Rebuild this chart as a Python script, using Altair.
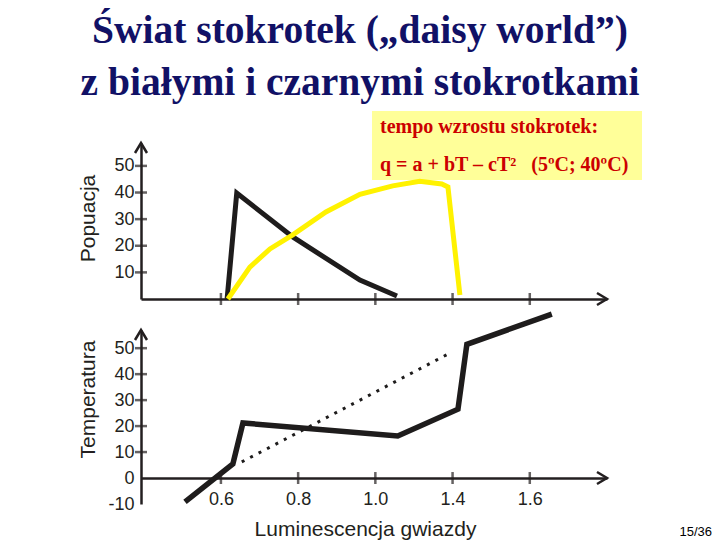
import altair as alt
import pandas as pd

# ---------------- data ----------------
TITLE_1 = "Świat stokrotek („daisy world”)"
TITLE_2 = "z białymi i czarnymi stokrotkami"
BOX_LINE_1 = "tempo wzrostu stokrotek:"
BOX_LINE_2 = "q = a + bT – cT²\u00a0\u00a0\u00a0(5ºC; 40ºC)"
PAGE_NO = "15/36"

# top panel: populations vs luminosity
BLACK_POP_L = [0.616, 0.641, 0.786, 0.960, 1.056]
BLACK_POP = [0, 39.8, 23.3, 7.1, 1.1]
YELLOW_POP_L = [0.618, 0.675, 0.727, 0.786, 0.872, 0.960, 1.045, 1.115, 1.172, 1.188, 1.219]
YELLOW_POP = [0, 12.0, 18.8, 24.1, 32.7, 39.3, 42.5, 44.2, 43.2, 42.1, 1.5]

# bottom panel: temperature vs luminosity
TEMP_L = [0.507, 0.631, 0.657, 1.058, 1.214, 1.237, 1.457]
TEMP = [-9.2, 5.4, 21.2, 16.2, 26.5, 51.5, 63.1]
DOT_L = [0.654, 1.193]
DOT_T = [6.2, 48.1]

X_TICKS = [0.6, 0.8, 1.0, 1.2, 1.4]
X_TICK_LABELS = ["0.6", "0.8", "1.0", "1.4", "1.6"]
POP_TICKS = [10, 20, 30, 40, 50]
TEMP_TICKS = [10, 20, 30, 40, 50]
TEMP_LABELS = [-10, 0, 10, 20, 30, 40, 50]

# ---------------- layout / style ----------------
X_MIN, X_MAX = 0.393, 1.6
POP_MAX = 58.6
T_MIN, T_MAX = -10, 57
W, H = 704, 532
AX = "#231f20"
FONT = "Liberation Sans"

label_expr = "'" + X_TICK_LABELS[-1] + "'"
for v, lab in reversed(list(zip(X_TICKS[:-1], X_TICK_LABELS[:-1]))):
    label_expr = f"abs(datum.value - {v}) < 0.01 ? '{lab}' : ({label_expr})"

xs = alt.Scale(domain=[X_MIN, X_MAX], range=[133, 599], nice=False, zero=False)

x_top = alt.X("L:Q", scale=xs,
              axis=alt.Axis(orient="bottom", offset=291 - H, ticks=False, labels=False,
                            title=None, grid=False, domainColor=AX, domainWidth=2.5))
y_top = alt.Y("v:Q",
              scale=alt.Scale(domain=[0, POP_MAX], range=[291, 135], nice=False, zero=False),
              axis=alt.Axis(orient="left", offset=-133, values=POP_TICKS, ticks=False, tickSize=0,
                            labelPadding=7, labelFont=FONT, labelFontSize=18, labelColor=AX,
                            grid=False, domainColor=AX, domainWidth=2.5,
                            title="Popuacja", titleFont=FONT, titleFontSize=21,
                            titleFontWeight="normal", titleColor=AX,
                            titleX=-53, titleY=210, titleAlign="center",
                            titleBaseline="middle", titleAngle=270))

x_bot = alt.X("L:Q", scale=xs,
              axis=alt.Axis(orient="bottom", offset=470 - H, values=X_TICKS, labelExpr=label_expr,
                            ticks=False, tickSize=0, labelPadding=12, labelFont=FONT,
                            labelFontSize=18, labelColor=AX, grid=False,
                            domainColor=AX, domainWidth=2.5,
                            title="Luminescencja gwiazdy", titleFont=FONT, titleFontSize=21,
                            titleFontWeight="normal", titleColor=AX,
                            titleX=357, titleY=51, titleAlign="center", titleBaseline="middle"))
y_bot = alt.Y("v:Q",
              scale=alt.Scale(domain=[T_MIN, T_MAX], range=[496, 322], nice=False, zero=False),
              axis=alt.Axis(orient="left", offset=-133, values=TEMP_LABELS, ticks=False, tickSize=0,
                            labelExpr="toString(datum.value)",
                            labelPadding=7, labelFont=FONT, labelFontSize=18, labelColor=AX,
                            labelFlush=False, grid=False, domainColor=AX, domainWidth=2.5,
                            title="Temperatura", titleFont=FONT, titleFontSize=21,
                            titleFontWeight="normal", titleColor=AX,
                            titleX=-53, titleY=391, titleAlign="center",
                            titleBaseline="middle", titleAngle=270))

UP = "M-0.6,1L0,0L0.6,1"
RIGHT = "M-1,-0.6L0,0L-1,0.6"


def panel(x_enc, y_enc, y_min_tick, y_ticks, y_top_value, series):
    layers = []
    for (ls, vs, color, extra) in series:
        df = pd.DataFrame({"L": ls, "v": vs})
        layers.append(alt.Chart(df).mark_line(color=color, strokeJoin="miter", **extra)
                      .encode(x=x_enc, y=y_enc))
    xt = pd.DataFrame({"L": X_TICKS, "v": [y_min_tick] * len(X_TICKS)})
    layers.append(alt.Chart(xt).mark_tick(orient="vertical", size=12, thickness=2.5, color=AX)
                  .encode(x=x_enc, y=y_enc))
    yt = pd.DataFrame({"L": [X_MIN] * len(y_ticks), "v": y_ticks})
    layers.append(alt.Chart(yt).mark_tick(orient="horizontal", size=12, thickness=2.5, color=AX)
                  .encode(x=x_enc, y=y_enc))
    up = pd.DataFrame({"L": [X_MIN], "v": [y_top_value]})
    layers.append(alt.Chart(up).mark_point(shape=UP, size=400, filled=False, strokeWidth=2.5,
                                           color=AX, opacity=1).encode(x=x_enc, y=y_enc))
    rt = pd.DataFrame({"L": [X_MAX], "v": [y_min_tick]})
    layers.append(alt.Chart(rt).mark_point(shape=RIGHT, size=400, filled=False, strokeWidth=2.5,
                                           color=AX, opacity=1).encode(x=x_enc, y=y_enc))
    return alt.layer(*layers)


top = panel(x_top, y_top, 0, POP_TICKS, POP_MAX, [
    (BLACK_POP_L, BLACK_POP, "#1e1c1c", {"strokeWidth": 5}),
    (YELLOW_POP_L, YELLOW_POP, "#fff200", {"strokeWidth": 5}),
])
bottom = panel(x_bot, y_bot, 0, TEMP_TICKS, T_MAX, [
    (DOT_L, DOT_T, "#1e1c1c", {"strokeWidth": 3, "strokeDash": [3, 6.5]}),
    (TEMP_L, TEMP, "#1e1c1c", {"strokeWidth": 5.5}),
])

one = pd.DataFrame({"a": [0]})
box = alt.Chart(one).mark_rect(color="#ffff99").encode(
    x=alt.value(364), x2=alt.value(634), y=alt.value(103), y2=alt.value(172))


def text(t, x, y, **kw):
    return alt.Chart(pd.DataFrame({"t": [t]})).mark_text(**kw).encode(
        text="t:N", x=alt.value(x), y=alt.value(y))


title_kw = dict(font="Liberation Serif", fontSize=39.5, fontWeight="bold", color="#111166",
                align="center", baseline="alphabetic")
box_kw = dict(font="Liberation Serif", fontSize=20, fontWeight="bold", color="#cc0000",
              align="left", baseline="alphabetic")

chart = alt.layer(
    box,
    top,
    bottom,
    text(TITLE_1, 352, 35, **title_kw),
    text(TITLE_2, 352, 87, **title_kw),
    text(BOX_LINE_1, 372, 125, **box_kw),
    text(BOX_LINE_2, 372, 163, **box_kw),
    text(PAGE_NO, 704, 528, font="Liberation Sans", fontSize=13, color="#000000",
         align="right", baseline="alphabetic"),
).resolve_scale(x="independent", y="independent").resolve_axis(
    x="independent", y="independent"
).properties(
    width=W, height=H, autosize=alt.AutoSizeParams(type="none"), padding=0
).configure_view(stroke=None)

chart.save("out.html", embed_options={"renderer": "svg", "actions": False})
